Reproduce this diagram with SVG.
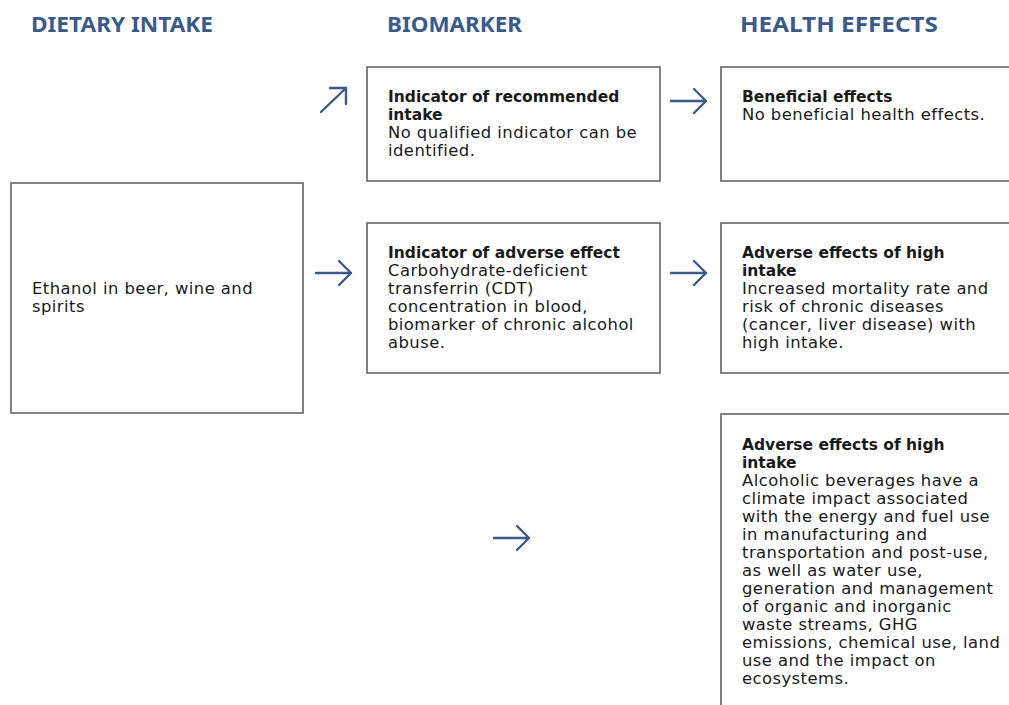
<svg xmlns="http://www.w3.org/2000/svg" width="1009" height="705" viewBox="0 0 1009 705">
<style>
.h{font-family:"Noto Sans","Liberation Sans",sans-serif;font-weight:700;font-size:21px;fill:#3b5a8a}
.box{fill:#fff;stroke:#5a5a5a;stroke-width:1.5}
.t{font-family:"DejaVu Sans","Liberation Sans",sans-serif;font-size:16.4px;fill:#1a1a1a;letter-spacing:0.45px}
.b{font-size:15.5px;font-weight:700;letter-spacing:0}
.arr{fill:none;stroke:#3b5a8a;stroke-width:2.4;stroke-linecap:round;stroke-linejoin:round}
</style>
<rect width="1009" height="705" fill="#fff"/>
<g id="headers">
<text class="h" x="31" y="32" textLength="182" lengthAdjust="spacingAndGlyphs">DIETARY INTAKE</text>
<text class="h" x="387" y="32" textLength="135" lengthAdjust="spacingAndGlyphs">BIOMARKER</text>
<text class="h" x="740" y="32" textLength="198" lengthAdjust="spacingAndGlyphs">HEALTH EFFECTS</text>
</g>
<g id="connectors">
<path class="arr" d="M321 112 L346 88 M330 88 L346 88 L346 104"/>
<path class="arr" d="M316 273 L351 273 M339 261 L351 273 L339 285"/>
<path class="arr" d="M671 101 L706 101 M694 89 L706 101 L694 113"/>
<path class="arr" d="M671 273 L706 273 M694 261 L706 273 L694 285"/>
<path class="arr" d="M494 538 L529 538 M517 526 L529 538 L517 550"/>
</g>
<g id="n-dietary">
<rect class="box" x="11" y="183" width="292" height="230"/>
<text class="t" x="32" y="294">Ethanol in beer, wine and</text>
<text class="t" x="32" y="312">spirits</text>
</g>
<g id="n-recommended">
<rect class="box" x="367" y="67" width="293" height="114"/>
<text class="t b" x="388" y="102">Indicator of recommended</text>
<text class="t b" x="388" y="120">intake</text>
<text class="t" x="388" y="138">No qualified indicator can be</text>
<text class="t" x="388" y="156">identified.</text>
</g>
<g id="n-adverse-indicator">
<rect class="box" x="367" y="223" width="293" height="150"/>
<text class="t b" x="388" y="258">Indicator of adverse effect</text>
<text class="t" x="388" y="276">Carbohydrate-deficient</text>
<text class="t" x="388" y="294">transferrin (CDT)</text>
<text class="t" x="388" y="312">concentration in blood,</text>
<text class="t" x="388" y="330">biomarker of chronic alcohol</text>
<text class="t" x="388" y="348">abuse.</text>
</g>
<g id="n-beneficial">
<rect class="box" x="721" y="67" width="300" height="114"/>
<text class="t b" x="742" y="102">Beneficial effects</text>
<text class="t" x="742" y="120">No beneficial health effects.</text>
</g>
<g id="n-adverse-health">
<rect class="box" x="721" y="223" width="300" height="150"/>
<text class="t b" x="742" y="258">Adverse effects of high</text>
<text class="t b" x="742" y="276">intake</text>
<text class="t" x="742" y="294">Increased mortality rate and</text>
<text class="t" x="742" y="312">risk of chronic diseases</text>
<text class="t" x="742" y="330">(cancer, liver disease) with</text>
<text class="t" x="742" y="348">high intake.</text>
</g>
<g id="n-adverse-env">
<rect class="box" x="721" y="414" width="300" height="310"/>
<text class="t b" x="742" y="450">Adverse effects of high</text>
<text class="t b" x="742" y="468">intake</text>
<text class="t" x="742" y="486">Alcoholic beverages have a</text>
<text class="t" x="742" y="504">climate impact associated</text>
<text class="t" x="742" y="522">with the energy and fuel use</text>
<text class="t" x="742" y="540">in manufacturing and</text>
<text class="t" x="742" y="558">transportation and post-use,</text>
<text class="t" x="742" y="576">as well as water use,</text>
<text class="t" x="742" y="594">generation and management</text>
<text class="t" x="742" y="612">of organic and inorganic</text>
<text class="t" x="742" y="630">waste streams, GHG</text>
<text class="t" x="742" y="648">emissions, chemical use, land</text>
<text class="t" x="742" y="666">use and the impact on</text>
<text class="t" x="742" y="684">ecosystems.</text>
</g>
</svg>
